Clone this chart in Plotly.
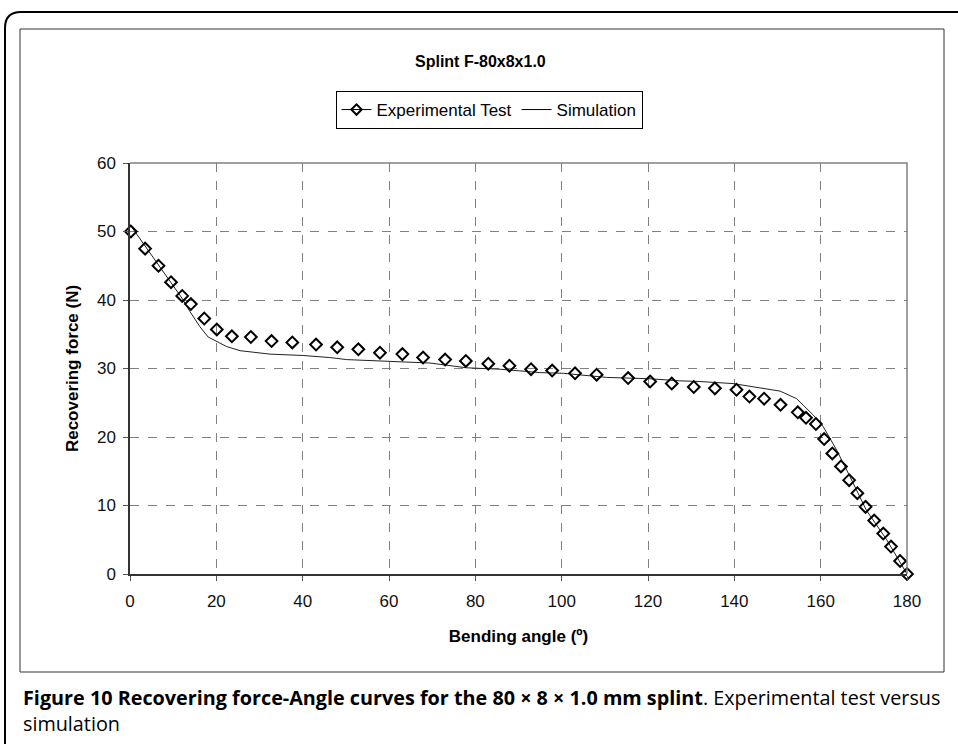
import plotly.graph_objects as go

# Experimental test data (bending angle in degrees, recovering force in N)
exp_angle = [0.2, 3.5, 6.6, 9.5, 12.1, 14.1, 17.2, 20.1, 23.6, 28.0, 32.8, 37.6, 43.1,
             48.0, 52.9, 57.9, 63.1, 67.9, 73.0, 77.8, 83.0, 87.9, 92.9, 97.8, 103.1,
             108.1, 115.4, 120.5, 125.5, 130.6, 135.5, 140.5, 143.5, 146.9, 150.7,
             154.7, 156.6, 158.9, 160.8, 162.7, 164.7, 166.6, 168.5, 170.4, 172.4,
             174.5, 176.3, 178.4, 180.0]
exp_force = [50.0, 47.5, 45.0, 42.6, 40.6, 39.4, 37.3, 35.7, 34.7, 34.6, 34.0, 33.8, 33.5,
             33.1, 32.8, 32.3, 32.1, 31.6, 31.3, 31.1, 30.7, 30.4, 29.9, 29.7, 29.3,
             29.1, 28.6, 28.1, 27.8, 27.3, 27.1, 26.9, 25.9, 25.6, 24.7,
             23.6, 22.8, 21.9, 19.7, 17.6, 15.7, 13.7, 11.8, 9.8, 7.8,
             5.9, 4.0, 1.9, 0.0]

# Simulation curve
sim_angle = [0, 5, 10, 12, 13.9, 16.2, 18.1, 20.1, 22.4, 25.5, 32.4, 40.1, 46.3, 50.2,
             60.2, 69.5, 78.0, 85.7, 95.0, 100.4, 110.4, 120.5, 127.4, 132.0, 139.7,
             146.7, 150.6, 154.4, 158.3, 160.6, 163.7, 166.8, 170.6, 175.3, 180.0]
sim_force = [51.0, 46.5, 42.0, 40.3, 38.3, 36.1, 34.6, 33.9, 33.2, 32.6, 32.1, 31.9, 31.6, 31.3,
             31.0, 30.8, 30.1, 29.9, 29.4, 29.3, 28.7, 28.5, 28.2, 28.1, 27.8,
             27.1, 26.7, 25.6, 23.2, 21.5, 18.1, 14.2, 9.3, 5.0, 0.0]

x_ticks = [0, 20, 40, 60, 80, 100, 120, 140, 160, 180]
y_ticks = [0, 10, 20, 30, 40, 50, 60]

W, H = 958, 744
L, R, T, B = 130, 907, 163, 574
PW, PH = R - L, B - T


def px(x):
    return (x - L) / PW


def py(y):
    return (B - y) / PH


FONT = "Arial, Liberation Sans, sans-serif"
CAP_FONT = "Open Sans, sans-serif"

fig = go.Figure()

fig.add_trace(go.Scatter(
    x=sim_angle, y=sim_force, mode="lines", name="Simulation",
    line=dict(color="#222222", width=1), showlegend=False, cliponaxis=False))

fig.add_trace(go.Scatter(
    x=exp_angle, y=exp_force, mode="markers", name="Experimental Test",
    marker=dict(symbol="diamond-open", size=9, color="black", line=dict(width=2, color="black")),
    showlegend=False, cliponaxis=False))

# legend entries (Excel-style: experimental shown with line + marker)
fig.add_trace(go.Scatter(
    x=[None], y=[None], mode="lines+markers", name="Experimental Test",
    line=dict(color="black", width=1),
    marker=dict(symbol="diamond-open", size=8, color="black", line=dict(width=2, color="black"))))
fig.add_trace(go.Scatter(
    x=[None], y=[None], mode="lines", name="Simulation",
    line=dict(color="black", width=1)))

fig.update_xaxes(
    range=[0, 180], tickvals=x_ticks, ticks="outside", ticklen=5, tickcolor="#555555",
    showline=True, linecolor="#333333", linewidth=1.5, ticklabelstandoff=6,
    showgrid=True, gridcolor="#808080", griddash="dash", gridwidth=1, zeroline=False,
    tickfont=dict(family=FONT, size=17, color="#111111"),
    title=dict(text="<b>Bending angle (º)</b>", font=dict(family=FONT, size=17, color="black"), standoff=20))
fig.update_yaxes(
    range=[0, 60], tickvals=y_ticks, ticks="outside", ticklen=5, tickcolor="#555555",
    showline=True, linecolor="#333333", linewidth=1.5, ticklabelstandoff=4,
    showgrid=True, gridcolor="#808080", griddash="dash", gridwidth=1, zeroline=False,
    tickfont=dict(family=FONT, size=17, color="#111111"),
    title=dict(text="<b>Recovering force (N)</b>", font=dict(family=FONT, size=17, color="black"), standoff=14))

shapes = [
    # top and right gray plot border
    dict(type="path", xref="paper", yref="paper",
         path="M 0 1 L 1 1 L 1 0", line=dict(color="#808080", width=1.5)),
    # chart box
    dict(type="rect", xref="paper", yref="paper",
         x0=px(20), x1=px(944), y0=py(672), y1=py(29),
         line=dict(color="#333333", width=1)),
    # outer rounded border
    dict(type="path", xref="paper", yref="paper",
         path=(f"M {px(5)} {py(760)} L {px(5)} {py(28)} "
               f"Q {px(5)} {py(12)} {px(21)} {py(12)} L {px(970)} {py(12)}"),
         line=dict(color="black", width=2)),
]

annotations = [
    dict(text="<b>Splint F-80x8x1.0</b>", xref="paper", yref="paper",
         x=px(480), y=py(62), xanchor="center", yanchor="middle", showarrow=False,
         font=dict(family=FONT, size=16, color="black")),
    dict(text=("<b>Figure 10 Recovering force-Angle curves for the 80 × 8 × 1.0 mm splint</b>. "
               "Experimental test versus"),
         xref="paper", yref="paper", x=px(21), y=py(697), xanchor="left", yanchor="middle",
         showarrow=False, font=dict(family=CAP_FONT, size=19.8, color="black")),
    dict(text="simulation",
         xref="paper", yref="paper", x=px(21), y=py(723), xanchor="left", yanchor="middle",
         showarrow=False, font=dict(family=CAP_FONT, size=19.8, color="black")),
]

fig.update_layout(
    width=W, height=H,
    margin=dict(l=L, r=W - R, t=T, b=H - B),
    paper_bgcolor="white", plot_bgcolor="white",
    shapes=shapes, annotations=annotations,
    legend=dict(orientation="h", x=px(489), y=py(110), xanchor="center", yanchor="middle",
                bordercolor="black", borderwidth=1, bgcolor="white",
                font=dict(family=FONT, size=17, color="black"),
                itemwidth=30, tracegroupgap=0),
    showlegend=True,
)

fig.write_html("out.html")
